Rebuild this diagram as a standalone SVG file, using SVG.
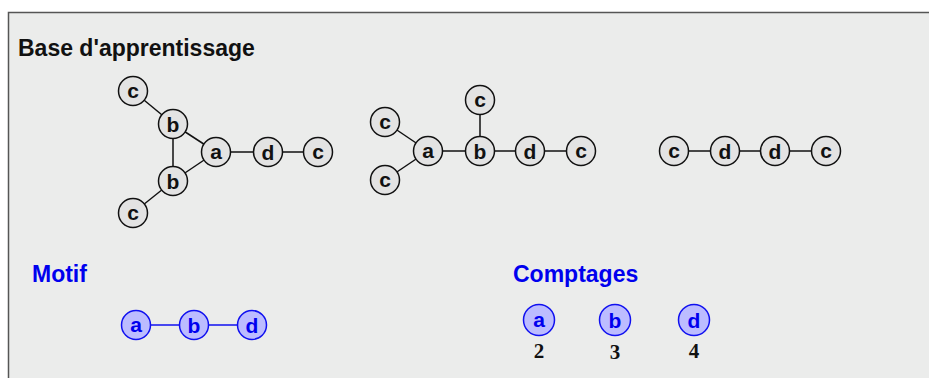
<svg xmlns="http://www.w3.org/2000/svg" width="929" height="378" viewBox="0 0 929 378">
<style>
.n circle{fill:#e3e3e3;stroke:#111;stroke-width:1.5}
.n text{font-family:"Liberation Sans",Arial,sans-serif;font-weight:bold;font-size:21px;text-anchor:middle;fill:#111}
.m circle{fill:#bcbcff;stroke:#1010f0;stroke-width:1.5}
.m text{font-family:"Liberation Sans",Arial,sans-serif;font-weight:bold;font-size:21px;text-anchor:middle;fill:#0000ee}
.e line{stroke:#111;stroke-width:1.5}
.me line{stroke:#1010f0;stroke-width:1.5}
.h{font-family:"Liberation Sans",Arial,sans-serif;font-weight:bold;font-size:23px}
.cnt{font-family:"Liberation Serif","Times New Roman",serif;font-weight:bold;font-size:21px;text-anchor:middle;fill:#111}
</style>
<rect x="0" y="0" width="929" height="378" fill="#ffffff"/>
<rect x="8.5" y="12.5" width="940" height="400" fill="#ebeceb" stroke="#555" stroke-width="1.5"/>
<text class="h" x="18" y="56" fill="#111">Base d'apprentissage</text>
<text class="h" x="32" y="282" fill="#0000ee">Motif</text>
<text class="h" x="513" y="282" fill="#0000ee">Comptages</text>
<g id="connectors">
<g class="e">
<line x1="133" y1="91" x2="173" y2="124"/>
<line x1="173" y1="124" x2="216" y2="152"/>
<line x1="173" y1="124" x2="173" y2="181"/>
<line x1="173" y1="181" x2="216" y2="152"/>
<line x1="133" y1="213" x2="173" y2="181"/>
<line x1="216" y1="152" x2="268" y2="152"/>
<line x1="268" y1="152" x2="318" y2="152"/>
<line x1="385" y1="122" x2="428" y2="151"/>
<line x1="385" y1="180" x2="428" y2="151"/>
<line x1="428" y1="151" x2="480" y2="151"/>
<line x1="480" y1="100" x2="480" y2="151"/>
<line x1="480" y1="151" x2="530" y2="151"/>
<line x1="530" y1="151" x2="581" y2="151"/>
<line x1="674" y1="151" x2="725" y2="151"/>
<line x1="725" y1="151" x2="775" y2="151"/>
<line x1="775" y1="151" x2="826" y2="151"/>
</g>
<g class="me">
<line x1="136" y1="325" x2="194" y2="325"/>
<line x1="194" y1="325" x2="252" y2="325"/>
</g>
</g>
<g id="g1-c1" class="n"><circle cx="133" cy="91" r="14.5"/><text x="133" y="98">c</text></g>
<g id="g1-b1" class="n"><circle cx="173" cy="124" r="14.5"/><text x="173" y="131.5">b</text></g>
<g id="g1-a" class="n"><circle cx="216" cy="152" r="14.5"/><text x="216" y="159">a</text></g>
<g id="g1-b2" class="n"><circle cx="173" cy="181" r="14.5"/><text x="173" y="188.5">b</text></g>
<g id="g1-c2" class="n"><circle cx="133" cy="213" r="14.5"/><text x="133" y="220">c</text></g>
<g id="g1-d" class="n"><circle cx="268" cy="152" r="14.5"/><text x="268" y="159.5">d</text></g>
<g id="g1-c3" class="n"><circle cx="318" cy="152" r="14.5"/><text x="318" y="159">c</text></g>
<g id="g2-c1" class="n"><circle cx="385" cy="122" r="14.5"/><text x="385" y="129">c</text></g>
<g id="g2-c2" class="n"><circle cx="385" cy="180" r="14.5"/><text x="385" y="187">c</text></g>
<g id="g2-a" class="n"><circle cx="428" cy="151" r="14.5"/><text x="428" y="158">a</text></g>
<g id="g2-c3" class="n"><circle cx="480" cy="100" r="14.5"/><text x="480" y="107">c</text></g>
<g id="g2-b" class="n"><circle cx="480" cy="151" r="14.5"/><text x="480" y="158.5">b</text></g>
<g id="g2-d" class="n"><circle cx="530" cy="151" r="14.5"/><text x="530" y="158.5">d</text></g>
<g id="g2-c4" class="n"><circle cx="581" cy="151" r="14.5"/><text x="581" y="158">c</text></g>
<g id="g3-c1" class="n"><circle cx="674" cy="151" r="14.5"/><text x="674" y="158">c</text></g>
<g id="g3-d1" class="n"><circle cx="725" cy="151" r="14.5"/><text x="725" y="158.5">d</text></g>
<g id="g3-d2" class="n"><circle cx="775" cy="151" r="14.5"/><text x="775" y="158.5">d</text></g>
<g id="g3-c2" class="n"><circle cx="826" cy="151" r="14.5"/><text x="826" y="158">c</text></g>
<g id="m-a" class="m"><circle cx="136" cy="325" r="14.5"/><text x="136" y="332">a</text></g>
<g id="m-b" class="m"><circle cx="194" cy="325" r="14.5"/><text x="194" y="332.5">b</text></g>
<g id="m-d" class="m"><circle cx="252" cy="325" r="14.5"/><text x="252" y="332.5">d</text></g>
<g id="cnt-a" class="m"><circle cx="539" cy="320" r="15.5"/><text x="539" y="327">a</text></g>
<g id="cnt-b" class="m"><circle cx="615" cy="320" r="15.5"/><text x="615" y="327.5">b</text></g>
<g id="cnt-d" class="m"><circle cx="694" cy="320" r="15.5"/><text x="694" y="327.5">d</text></g>
<text class="cnt" x="539" y="358">2</text>
<text class="cnt" x="615" y="359">3</text>
<text class="cnt" x="694" y="358">4</text>
</svg>
